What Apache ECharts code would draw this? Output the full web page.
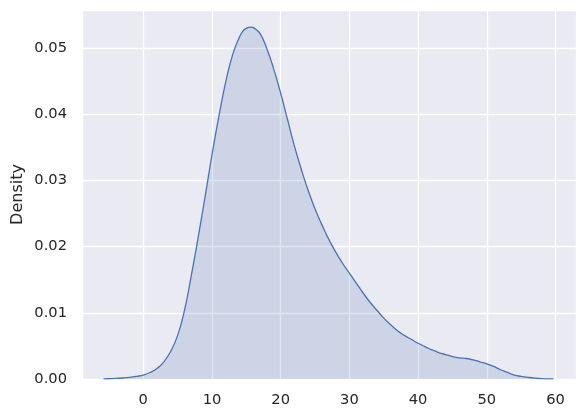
<!DOCTYPE html>
<html>
<head>
<meta charset="utf-8">
<script src="https://cdn.jsdelivr.net/npm/echarts@6/dist/echarts.min.js"></script>
<style>html,body{margin:0;padding:0;background:#fff}#c{width:586px;height:417px}</style>
</head>
<body>
<div id="c"></div>
<script>
const xValues = [-5.8, -5, -4, -3, -2, -1, 0, 1, 2, 3, 4, 5, 6, 7, 8, 9, 10, 11, 12, 13, 14, 14.5, 15, 15.6, 16.2, 17, 18, 19, 20, 21, 22, 23, 24, 25, 26, 27, 28, 29, 30, 31, 32, 33, 34, 35, 36, 37, 38, 39, 40, 41, 42, 43, 44, 45, 46, 47, 48, 49, 50, 51, 52, 53, 54, 55, 56, 57, 58, 59, 59.7];
const density = [0.00001, 0.00004, 0.00008, 0.00015, 0.00025, 0.0004, 0.0006, 0.0010, 0.0016, 0.0026, 0.0042, 0.0066, 0.0104, 0.0157, 0.0215, 0.0276, 0.0339, 0.0397, 0.0449, 0.0490, 0.0517, 0.0526, 0.0530, 0.0532, 0.0530, 0.0522, 0.0499, 0.0468, 0.0432, 0.0392, 0.0352, 0.0317, 0.0285, 0.0257, 0.0233, 0.0211, 0.0192, 0.0175, 0.0160, 0.0145, 0.0130, 0.0116, 0.0104, 0.0092, 0.0082, 0.0073, 0.0066, 0.0060, 0.0054, 0.0049, 0.0044, 0.0040, 0.0037, 0.0034, 0.0032, 0.0031, 0.0029, 0.0026, 0.0023, 0.0019, 0.0014, 0.0010, 0.0006, 0.0004, 0.00025, 0.00013, 0.00005, 0.00002, 0.00001];
const yLabel = 'Density';

const font = 'DejaVu Sans';
const chart = echarts.init(document.getElementById('c'), null, {renderer: 'canvas'});
chart.setOption({
  backgroundColor: '#ffffff',
  animation: false,
  grid: {left: 82, right: 10, top: 10, bottom: 38, show: true, backgroundColor: '#EAEAF2', borderWidth: 0},
  xAxis: {
    type: 'value', min: -8.92, max: 62.98, splitNumber: 7, minInterval: 10, maxInterval: 10,
    axisLine: {show: false}, axisTick: {show: false},
    axisLabel: {color: '#262626', fontFamily: font, fontSize: 14.67, margin: 14, showMinLabel: false, showMaxLabel: false,
      formatter: v => (Math.abs(v % 10) < 1e-6 ? String(Math.round(v)) : '')},
    splitLine: {show: true, lineStyle: {color: '#ffffff', width: 1.3}}
  },
  yAxis: {
    type: 'value', min: 0, max: 0.05578, interval: 0.01,
    name: yLabel, nameLocation: 'middle', nameGap: 56, nameMoveOverlap: false,
    nameTextStyle: {color: '#262626', fontFamily: font, fontSize: 16},
    axisLine: {show: false}, axisTick: {show: false},
    axisLabel: {color: '#262626', fontFamily: font, fontSize: 14.67, margin: 15, showMaxLabel: false,
      formatter: v => v.toFixed(2)},
    splitLine: {show: true, lineStyle: {color: '#ffffff', width: 1.3}}
  },
  series: [{
    type: 'line',
    data: xValues.map((x, i) => [x, density[i]]),
    smooth: 0.5,
    showSymbol: false,
    lineStyle: {color: '#4C72B0', width: 1.3},
    areaStyle: {color: 'rgba(76,114,176,0.25)'},
    z: 3
  }]
});
</script>
</body>
</html>
